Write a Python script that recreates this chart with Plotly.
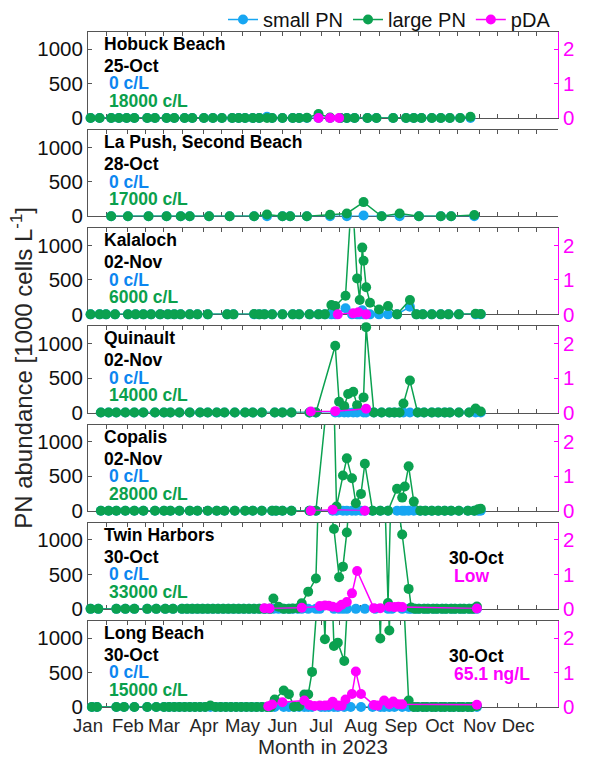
import datetime as dt
import plotly.graph_objects as go

YEAR = "2023"

# ---------------- data (PN in 1000 cells/L, pDA in ug/L) ----------------
# Hobuck Beach
HB_DATES = ["01-03", "01-10", "01-19", "01-25", "01-31", "02-06", "02-16", "02-22", "03-03", "03-09",
            "03-17", "03-23", "04-01", "04-08", "04-15", "04-23", "04-28", "05-03", "05-09", "05-14",
            "05-20", "05-24", "06-01", "06-09", "06-14", "06-20", "06-29", "07-08", "07-16", "07-21",
            "07-27", "08-06", "08-13", "08-26", "09-05", "09-11", "09-17", "09-25", "10-02", "10-09",
            "10-17", "10-25"]
HB_SMALL = [0, 0, 0, 0, 0, 0, 0, 0, 0, 0, 0, 0, 0, 0, 0, 0, 0, 0, 0, 0,
            20, 0, 0, 0, 0, 0, 0, 0, 0, 0, 0, 0, 0, 0, 0, 0, 0, 0, 0, 0, 0, 0]
HB_LARGE = [0, 0, 0, 0, 0, 0, 0, 0, 0, 0, 0, 0, 0, 0, 0, 0, 0, 0, 0, 0,
            0, 0, 0, 0, 0, 4, 60, 8, 0, 0, 0, 0, 0, 0, 0, 0, 0, 0, 0, 0, 0, 18]
HB_PDA_DATES = ["06-29", "07-08", "07-15"]
HB_PDA = [0, 0, 0]

# La Push, Second Beach
LP_DATES = ["01-19", "02-01", "02-17", "03-03", "03-14", "03-21", "04-05", "04-21", "05-10", "05-20",
            "06-01", "06-07", "06-20", "07-08", "07-21", "08-03", "08-17", "08-31", "09-15", "10-02",
            "10-10", "10-28"]
LP_SMALL = [0, 0, 0, 0, 0, 0, 0, 0, 0, 0, 0, 0, 0, 0, 0, 10, 0, 0, 0, 0, 0, 0]
LP_LARGE = [0, 0, 0, 0, 0, 0, 0, 0, 0, 25, 0, 0, 0, 20, 40, 205, 0, 40, 0, 0, 0, 17]
LP_PDA_DATES = []
LP_PDA = []

# Kalaloch
KL_DATES = ["01-03", "01-10", "01-15", "01-22", "02-01", "02-07", "02-13", "02-19", "02-26", "03-04",
            "03-09", "03-14", "03-21", "03-27", "04-04", "04-19", "04-24", "05-10", "05-14", "05-18",
            "05-24", "06-01", "06-09", "06-14", "06-22", "06-29", "07-04", "07-09", "07-12", "07-20",
            "07-25", "07-29", "07-31", "08-02", "08-03", "08-05", "08-08", "08-15", "08-22", "08-29",
            "09-08", "09-13", "09-18", "09-25", "10-02", "10-08", "10-16", "10-29", "11-02"]
KL_SMALL = [0, 0, 0, 0, 0, 0, 0, 0, 0, 0, 0, 0, 0, 0, 0, 0, 0, 0, 0, 0,
            0, 0, 0, 0, 0, 0, 0, 0, 0, 90, 0, 0, 0, 60, 0, 0, 0, 0, 0, 0,
            110, 0, 0, 0, 0, 0, 0, 0, 0]
KL_LARGE = [0, 0, 0, 0, 0, 0, 0, 0, 0, 0, 0, 0, 0, 0, 0, 0, 0, 5, 0, 0,
            0, 0, 0, 0, 0, 0, 0, 135, 120, 270, 1800, 520, 210, 970, 780, 395, 170, 70, 120, 0,
            210, 0, 0, 0, 0, 0, 0, 10, 6]
KL_PDA_DATES = ["07-14", "07-26", "07-30", "08-05"]
KL_PDA = [0, 0.03, 0.06, 0]

# Quinault
QN_DATES = ["01-11", "01-17", "01-23", "01-30", "02-06", "02-13", "02-22", "03-01", "03-06", "03-13",
            "03-21", "03-29", "04-04", "04-11", "04-17", "04-25", "05-03", "05-09", "05-16", "05-26",
            "06-01", "06-08", "06-22", "06-27", "07-12", "07-15", "07-19", "07-22", "07-26", "07-29",
            "08-03", "08-05", "08-11", "08-17", "08-23", "08-27", "08-31", "09-03", "09-08", "09-14",
            "09-19", "09-25", "09-30", "10-05", "10-09", "10-16", "10-24", "10-29", "11-02"]
QN_SMALL = [0, 0, 0, 0, 0, 0, 0, 0, 0, 0, 0, 0, 0, 0, 0, 0, 0, 0, 0, 0,
            0, 0, 0, 0, 0, 0, 0, 0, 0, 0, 0, 0, 0, 0, 0, 0, 0, 0, 0, 0,
            0, 0, 0, 0, 0, 0, 0, 0, 0]
QN_LARGE = [0, 0, 0, 0, 0, 0, 0, 0, 0, 0, 0, 0, 0, 0, 0, 0, 0, 0, 0, 0,
            0, 0, 0, 0, 970, 156, 93, 268, 302, 107, 220, 1240, 0, 0, 0, 0, 0, 132, 464, 0,
            0, 0, 0, 0, 0, 0, 0, 59, 14]
QN_PDA_DATES = ["06-23", "07-12", "08-05"]
QN_PDA = [0.03, 0.04, 0.11]

# Copalis
CP_DATES = ["01-11", "01-17", "01-23", "01-30", "02-06", "02-13", "02-22", "03-01", "03-06", "03-13",
            "03-21", "03-27", "04-04", "04-11", "04-17", "04-25", "05-03", "05-09", "05-16", "05-24",
            "05-27", "06-01", "06-08", "06-22", "06-27", "07-10", "07-13", "07-18", "07-21", "07-25",
            "07-28", "08-01", "08-04", "08-10", "08-16", "08-22", "08-29", "09-02", "09-04", "09-07",
            "09-11", "09-16", "09-20", "09-25", "09-30", "10-05", "10-10", "10-16", "10-23", "10-28",
            "10-31", "11-02"]
CP_SMALL = [0, 0, 0, 0, 0, 0, 0, 0, 0, 0, 0, 0, 0, 0, 0, 0, 0, 0, 0, 0,
            0, 0, 0, 0, 0, 0, 0, 0, 0, 0, 0, 0, 0, 0, 0, 0, 0, 0, 0, 0,
            0, 0, 0, 0, 0, 0, 0, 0, 0, 0, 0, 0]
CP_LARGE = [0, 0, 0, 0, 0, 0, 0, 0, 0, 0, 0, 0, 0, 0, 0, 0, 0, 0, 0, 0,
            0, 0, 0, 0, 0, 2400, 60, 510, 760, 470, 107, 244, 683, 0, 0, 0, 317, 190, 350, 644,
            132, 0, 0, 0, 0, 0, 0, 0, 0, 0, 20, 28]
CP_PDA_DATES = ["06-23", "07-10", "08-04"]
CP_PDA = [0, 0.03, 0]

# Twin Harbors
TH_DATES = ["01-03", "01-09", "01-23", "01-30", "02-06", "02-16", "02-23", "03-02", "03-08", "03-15",
            "03-19", "03-23", "03-27", "03-31", "04-04", "04-08", "04-12", "04-16", "04-20", "04-24",
            "04-28", "05-02", "05-06", "05-10", "05-14", "05-18", "05-22", "05-25", "05-29", "06-02",
            "06-06", "06-09", "06-13", "06-16", "06-21", "06-27", "06-30", "07-11", "07-15", "07-18",
            "07-21", "07-28", "08-04", "08-12", "08-22", "08-25", "09-02", "09-07", "09-09", "09-12",
            "09-15", "09-19", "09-22", "09-26", "09-29", "10-03", "10-06", "10-10", "10-13", "10-17",
            "10-20", "10-24", "10-27", "10-30"]
TH_SMALL = [0, 0, 0, 0, 0, 0, 0, 0, 0, 0, 0, 0, 0, 0, 0, 0, 0, 0, 0, 0,
            0, 0, 0, 0, 0, 0, 0, 0, 0, 0, 0, 0, 0, 0, 0, 0, 0, 0, 0, 0,
            0, 0, 0, 0, 0, 0, 0, 0, 0, 0, 0, 0, 0, 0, 0, 0, 0, 0, 0, 0,
            0, 0, 0, 0]
TH_LARGE = [0, 0, 0, 0, 0, 0, 0, 0, 0, 0, 0, 0, 0, 0, 0, 0, 0, 0, 0, 0,
            0, 0, 0, 0, 0, 0, 0, 150, 30, 0, 0, 5, 10, 82, 250, 440, 2300, 1160, 460, 613,
            1110, 2800, 4500, 6300, 85, 2150, 1080, 290, 20, 0, 0, 0, 0, 0, 0, 0, 0, 0, 0, 0,
            0, 0, 0, 33]
TH_PDA_DATES = ["05-18", "05-22", "06-16", "06-30", "07-04", "07-07", "07-10", "07-14", "07-17", "07-21",
                "07-25", "07-29", "08-11", "08-16", "08-23", "08-27", "08-30", "09-02", "10-30"]
TH_PDA = [0.02, 0.01, 0.03, 0.08, 0.1, 0.09, 0.06, 0.04, 0.12, 0.2,
          0.45, 1.1, 0.02, 0.02, 0.06, 0.05, 0.06, 0.05, 0.01]

# Long Beach
LB_DATES = ["01-04", "01-08", "01-23", "01-29", "02-06", "02-16", "02-23", "03-01", "03-05", "03-09",
            "03-13", "03-17", "03-21", "03-25", "03-29", "04-02", "04-06", "04-10", "04-14", "04-18",
            "04-22", "04-26", "04-30", "05-04", "05-08", "05-12", "05-16", "05-20", "05-23", "05-26",
            "06-02", "06-06", "06-10", "06-14", "06-18", "06-21", "06-24", "07-01", "07-04", "07-07",
            "07-11", "07-14", "07-19", "07-24", "08-01", "08-10", "08-16", "08-19", "08-23", "08-27",
            "09-02", "09-07", "09-11", "09-14", "09-18", "09-21", "09-25", "09-28", "10-02", "10-05",
            "10-09", "10-12", "10-16", "10-19", "10-23", "10-26", "10-30"]
LB_SMALL = [0, 0, 0, 0, 0, 0, 0, 0, 0, 0, 0, 0, 0, 0, 0, 0, 0, 0, 0, 0,
            0, 0, 0, 0, 0, 0, 0, 0, 0, 0, 0, 0, 0, 0, 0, 0, 0, 0, 0, 0,
            0, 0, 0, 0, 0, 0, 0, 0, 0, 0, 0, 0, 0, 0, 0, 0, 0, 0, 0, 0,
            0, 0, 0, 0, 0, 0, 0]
LB_LARGE = [0, 0, 0, 0, 0, 0, 0, 0, 0, 0, 0, 0, 0, 0, 0, 0, 20, 0, 0, 0,
            0, 0, 0, 0, 0, 0, 0, 0, 0, 110, 240, 187, 5, 10, 182, 183, 510, 2300, 983, 3000,
            886, 935, 668, 3500, 5000, 4500, 995, 3000, 1110, 4000, 2000, 95, 0, 0, 0, 0, 0, 0, 0, 0,
            0, 0, 0, 0, 0, 0, 15]
LB_PDA_DATES = ["05-21", "05-24", "06-01", "06-18", "06-22", "06-26", "06-30", "07-04", "07-07", "07-10",
                "07-14", "07-17", "07-20", "07-25", "07-28", "08-01", "08-11", "08-14", "08-19", "08-23",
                "08-26", "08-30", "09-02", "10-30"]
LB_PDA = [0.02, 0.07, 0.14, 0.19, 0.06, 0.03, 0.04, 0.04, 0.05, 0.15,
          0.04, 0.04, 0.22, 0.38, 1.03, 0.38, 0.06, 0.04, 0.19, 0.08,
          0.16, 0.08, 0.08, 0.0651]

MONTHS = ["Jan", "Feb", "Mar", "Apr", "May", "Jun", "Jul", "Aug", "Sep", "Oct", "Nov", "Dec"]
SERIES_NAMES = ["small PN", "large PN", "pDA"]

STATIONS = [
    dict(name="Hobuck Beach", dates=HB_DATES, small=HB_SMALL, large=HB_LARGE,
         pda_dates=HB_PDA_DATES, pda=HB_PDA, pda_text=None),
    dict(name="La Push, Second Beach", dates=LP_DATES, small=LP_SMALL, large=LP_LARGE,
         pda_dates=LP_PDA_DATES, pda=LP_PDA, pda_text=None),
    dict(name="Kalaloch", dates=KL_DATES, small=KL_SMALL, large=KL_LARGE,
         pda_dates=KL_PDA_DATES, pda=KL_PDA, pda_text=None),
    dict(name="Quinault", dates=QN_DATES, small=QN_SMALL, large=QN_LARGE,
         pda_dates=QN_PDA_DATES, pda=QN_PDA, pda_text=None),
    dict(name="Copalis", dates=CP_DATES, small=CP_SMALL, large=CP_LARGE,
         pda_dates=CP_PDA_DATES, pda=CP_PDA, pda_text=None),
    dict(name="Twin Harbors", dates=TH_DATES, small=TH_SMALL, large=TH_LARGE,
         pda_dates=TH_PDA_DATES, pda=TH_PDA, pda_text="Low"),
    dict(name="Long Beach", dates=LB_DATES, small=LB_SMALL, large=LB_LARGE,
         pda_dates=LB_PDA_DATES, pda=LB_PDA, pda_text="value"),
]

# ---------------- styling ----------------
FONT = "Liberation Sans, Arial, Helvetica, sans-serif"
SMALL_C = "#17A6F2"
LARGE_C = "#0BA150"
PDA_C = "#FF00FF"
SMALL_TXT = "#0C86F0"
LARGE_TXT = "#0AA04C"
AX_C = "#555555"
YMAX_PN = 1250
YMAX_PDA = 2.5

W, H = 595, 759
ML, MR, MT, MB = 88, 37, 32, 51.7
PLOT_W = W - ML - MR
PLOT_H = H - MT - MB
PITCH = 98.2
PH = PLOT_H - 6 * PITCH


def paper_y(px):
    return (H - MB - px) / PLOT_H


def paper_x(px):
    return (px - ML) / PLOT_W


def iso(ds):
    return [f"{YEAR}-{d}" for d in ds]


def as_date(md):
    return dt.date(int(YEAR), int(md[:2]), int(md[3:]))


month_ticks = [f"{YEAR}-{m:02d}-01" for m in range(1, 13)]
mid_ticks = [f"{YEAR}-{m:02d}-15" for m in range(1, 13)]

fig = go.Figure()
annotations = []
layout_axes = {}

for i, st in enumerate(STATIONS):
    k = i + 1
    xa = "x" if k == 1 else f"x{k}"
    ya = "y" if k == 1 else f"y{k}"
    ya2 = f"y{k + 7}"
    top = MT + i * PITCH
    dom = [max(0.0, paper_y(top + PH)), min(1.0, paper_y(top))]

    dates = iso(st["dates"])
    for vals, col in ((st["small"], SMALL_C), (st["large"], LARGE_C)):
        # connecting line, clipped to the panel
        fig.add_trace(go.Scatter(x=dates, y=vals, mode="lines", line=dict(color=col, width=1.5),
                                 xaxis=xa, yaxis=ya, showlegend=False, hoverinfo="skip"))
        # sample markers inside the axis range, drawn unclipped over the frame
        shown = [(d, v) for d, v in zip(dates, vals) if v <= YMAX_PN * 1.03]
        fig.add_trace(go.Scatter(x=[d for d, _ in shown], y=[v for _, v in shown], mode="markers",
                                 marker=dict(color=col, size=10), cliponaxis=False,
                                 xaxis=xa, yaxis=ya, showlegend=False, hoverinfo="skip"))
    if st["pda"]:
        pd_dates = iso(st["pda_dates"])
        fig.add_trace(go.Scatter(x=pd_dates, y=st["pda"], mode="lines", line=dict(color=PDA_C, width=1.5),
                                 xaxis=xa, yaxis=ya2, showlegend=False, hoverinfo="skip"))
        fig.add_trace(go.Scatter(x=pd_dates, y=st["pda"], mode="markers", marker=dict(color=PDA_C, size=10),
                                 cliponaxis=False, xaxis=xa, yaxis=ya2, showlegend=False, hoverinfo="skip"))

    xkey = "xaxis" if k == 1 else f"xaxis{k}"
    ykey = "yaxis" if k == 1 else f"yaxis{k}"
    layout_axes[xkey] = dict(
        domain=[0, 1], anchor=ya, type="date", range=[f"{YEAR}-01-01", "2024-01-01"],
        tickmode="array", tickvals=month_ticks, ticktext=MONTHS, showticklabels=(k == 7),
        ticks="inside", ticklen=4, tickcolor=AX_C, mirror="allticks", showline=True,
        minor=dict(tickmode="array", tickvals=mid_ticks, ticks="inside", ticklen=4, tickcolor=AX_C,
                   showgrid=False),
        linecolor=AX_C, linewidth=1, showgrid=False, zeroline=False, layer="below traces",
        ticklabelstandoff=2,
        tickfont=dict(family=FONT, size=18.5, color="#262626"),
    )
    if k > 1:
        layout_axes[xkey]["matches"] = "x"
    layout_axes[ykey] = dict(
        domain=dom, anchor=xa, range=[0, YMAX_PN], tickmode="array", tickvals=[0, 500, 1000],
        ticks="inside", ticklen=4, tickcolor=AX_C, showline=True, linecolor=AX_C, linewidth=1,
        showgrid=False, zeroline=False, layer="below traces",
        tickfont=dict(family=FONT, size=20.5, color="#111111"),
    )
    layout_axes[f"yaxis{k + 7}"] = dict(
        overlaying=ya, side="right", anchor=xa, range=[0, YMAX_PDA], tickmode="array",
        tickvals=[0, 1, 2], ticks="inside", ticklen=4, tickcolor=PDA_C, showline=True,
        linecolor=PDA_C, linewidth=1, showgrid=False, zeroline=False,
        tickfont=dict(family=FONT, size=20.5, color=PDA_C),
    )

    # station text block: name, last sampling date, last small / large PN counts
    date_lab = as_date(st["dates"][-1]).strftime("%d-%b")
    lines = [
        (st["name"], "black", 0, 12),
        (date_lab, "black", 0, 34),
        (f"{int(round(st['small'][-1] * 1000))} c/L", SMALL_TXT, 5, 51.5),
        (f"{int(round(st['large'][-1] * 1000))} c/L", LARGE_TXT, 5, 69),
    ]
    for txt, col, dx, dy in lines:
        annotations.append(dict(
            text=f"<b>{txt}</b>", x=paper_x(102.5 + dx), y=paper_y(top + dy), xref="paper", yref="paper",
            xanchor="left", yanchor="middle", showarrow=False, borderpad=0,
            font=dict(family=FONT, size=17.5, color=col)))

    if st["pda_text"] is not None:
        pdt = as_date(st["pda_dates"][-1])
        right_val = st["pda_text"] if st["pda_text"] != "value" else f"{st['pda'][-1] * 1000:.1f} ng/L"
        annotations.append(dict(
            text=f"<b>{pdt.strftime('%d-%b')}</b>", x=paper_x(448), y=paper_y(top + 35.5),
            xref="paper", yref="paper", xanchor="left", yanchor="middle", showarrow=False, borderpad=0,
            font=dict(family=FONT, size=17.5, color="black")))
        annotations.append(dict(
            text=f"<b>{right_val}</b>", x=paper_x(453), y=paper_y(top + 53.5),
            xref="paper", yref="paper", xanchor="left", yanchor="middle", showarrow=False, borderpad=0,
            font=dict(family=FONT, size=17.5, color=PDA_C)))

# legend entries
for name, col in zip(SERIES_NAMES, (SMALL_C, LARGE_C, PDA_C)):
    fig.add_trace(go.Scatter(x=[None], y=[None], mode="lines+markers", name=name,
                             line=dict(color=col, width=1.5), marker=dict(color=col, size=10),
                             xaxis="x", yaxis="y", showlegend=True))

annotations.append(dict(
    text="PN abundance [1000 cells L<sup>-1</sup>]", textangle=-90, x=paper_x(22), y=paper_y(368),
    xref="paper", yref="paper", xanchor="center", yanchor="middle", showarrow=False,
    font=dict(family=FONT, size=24, color="#262626")))
annotations.append(dict(
    text="Month in 2023", x=0.5, y=paper_y(746.5), xref="paper", yref="paper",
    xanchor="center", yanchor="middle", showarrow=False, borderpad=0,
    font=dict(family=FONT, size=20.5, color="#262626")))

fig.update_layout(
    width=W, height=H, margin=dict(l=ML, r=MR, t=MT, b=MB, autoexpand=False),
    paper_bgcolor="white", plot_bgcolor="white",
    font=dict(family=FONT, color="#111111"),
    showlegend=True,
    legend=dict(orientation="h", x=paper_x(556), xanchor="right", y=paper_y(0), yanchor="top",
                font=dict(family=FONT, size=20, color="#111111"), bgcolor="rgba(0,0,0,0)",
                itemwidth=30, tracegroupgap=0),
    annotations=annotations,
    **layout_axes,
)

fig.write_html("out.html")
